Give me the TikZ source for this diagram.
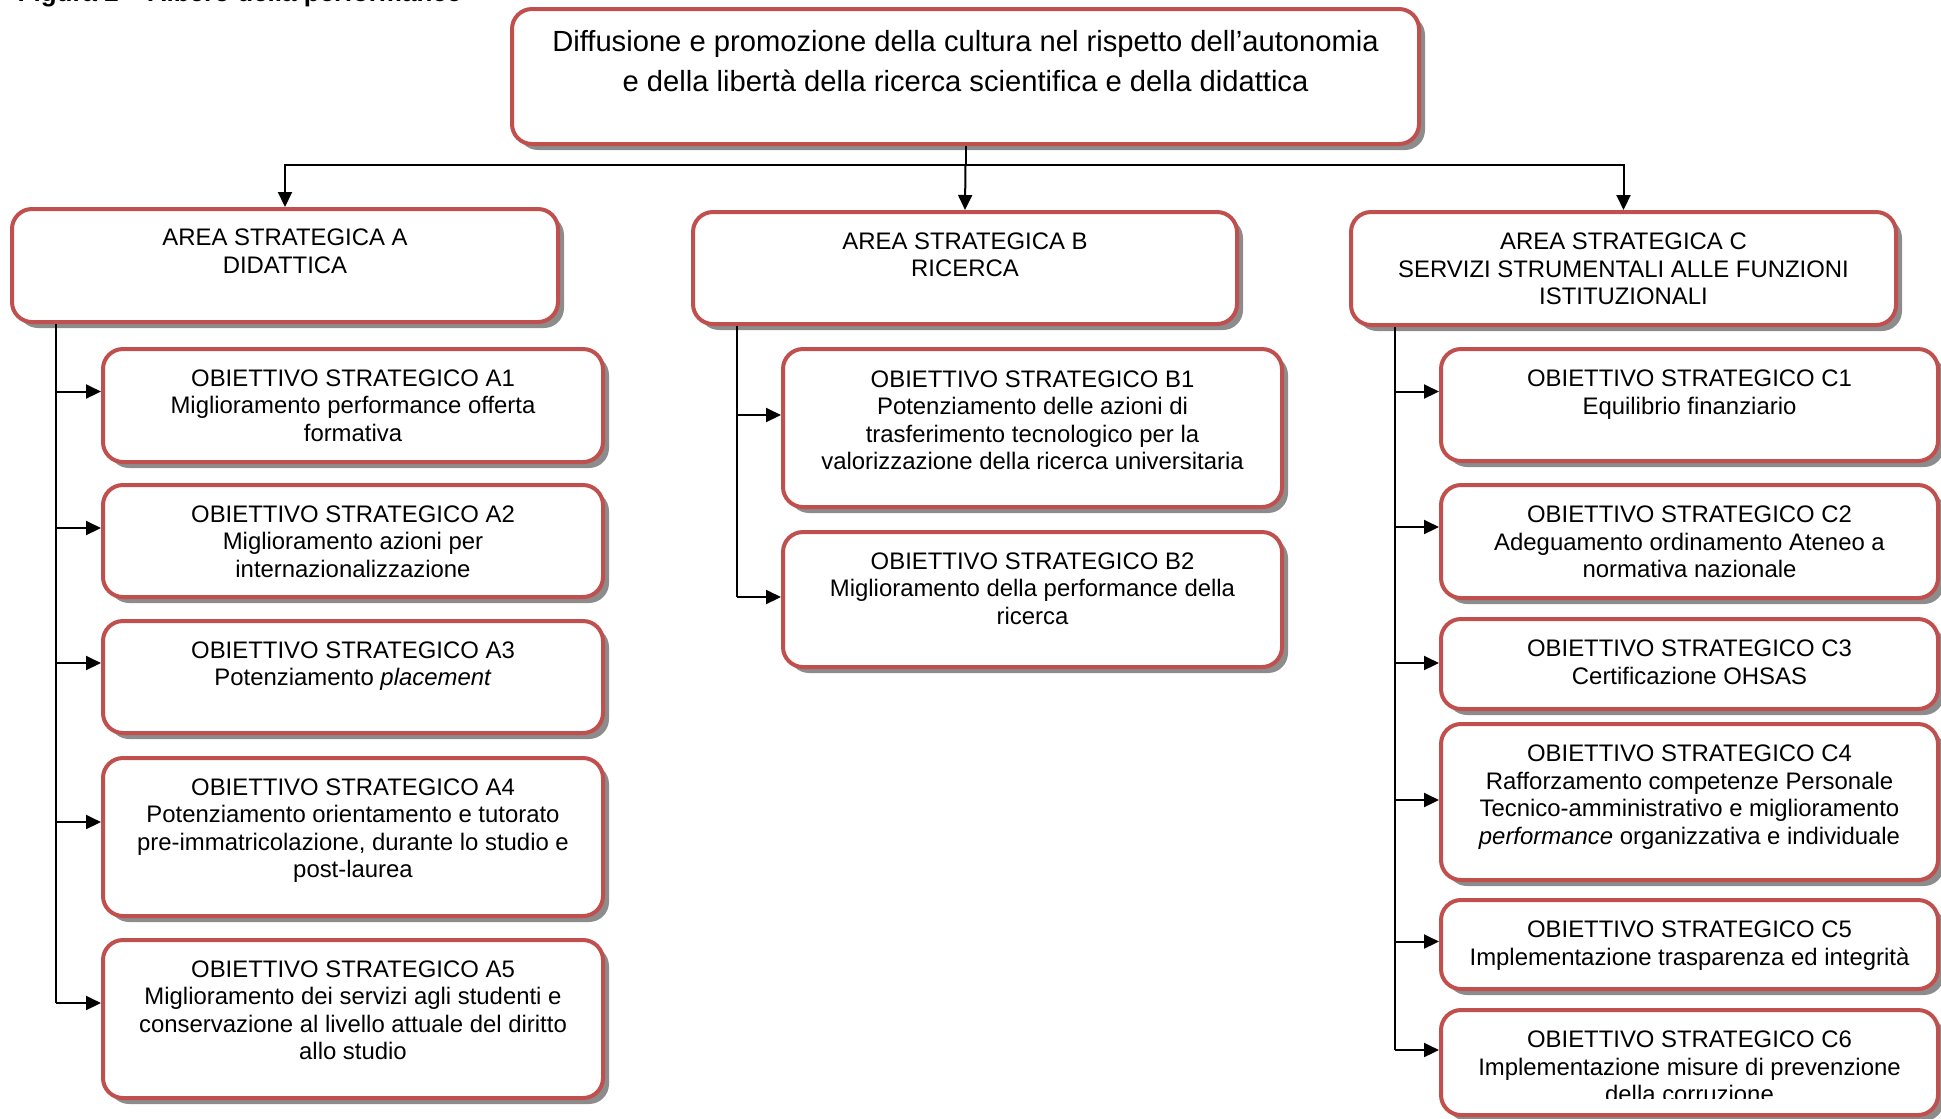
\documentclass[tikz,border=0pt]{standalone}
\usepackage{fontspec}
\setmainfont{Liberation Sans}
\usetikzlibrary{arrows.meta,shadows}
\definecolor{bordo}{HTML}{C0504D}
\tikzset{
  box/.style={draw=bordo, line width=0.4mm, rounded corners=2mm, fill=white, anchor=north west, inner sep=0,
    drop shadow={shadow xshift=.6mm, shadow yshift=-.6mm, fill=black!45, opacity=1}},
  txt/.style={anchor=north, align=center, inner sep=0, font=\fontsize{6.8}{7.8}\selectfont},
  arr/.style={-{Triangle[length=1.5mm,width=1.4mm]}, line width=0.2mm},
}
\begin{document}
\begin{tikzpicture}[x=0.1mm, y=-0.1mm]
                \useasboundingbox (0,0) rectangle (1941,1118);
                \node[anchor=base west, inner sep=0, font=\bfseries\fontsize{7.4}{8}\selectfont] (cap) at (17,1) {Figura 2 – Albero della performance};

                \node[box, minimum width=90.7mm, minimum height=13.5mm] (top) at (510,7) {};
                \node[txt, font=\fontsize{8.3}{11.2}\selectfont] (toptxt) at ([yshift=-2.3mm]top.north) {Diffusione e promozione della cultura nel rispetto dell’autonomia\\e della libertà della ricerca scientifica e della didattica};

                \node[box, minimum width=54.6mm, minimum height=11.3mm] (areaA) at (10,207) {};
                \node[box, minimum width=54.4mm, minimum height=11.2mm] (areaB) at (691,210) {};
                \node[box, minimum width=54.5mm, minimum height=11.3mm] (areaC) at (1349,210) {};
                \node[txt] (areaAtxt) at ([yshift=-2.15mm]areaA.north) {AREA STRATEGICA A\\DIDATTICA};
                \node[txt] (areaBtxt) at ([yshift=-2.2mm]areaB.north) {AREA STRATEGICA B\\RICERCA};
                \node[txt] (areaCtxt) at ([yshift=-2.25mm]areaC.north) {AREA STRATEGICA C\\SERVIZI STRUMENTALI ALLE FUNZIONI\\ISTITUZIONALI};

                \node[box, minimum width=50mm, minimum height=11.3mm] (A1) at (101,347) {};
                \node[box, minimum width=50mm, minimum height=11.2mm] (A2) at (101,483) {};
                \node[box, minimum width=50mm, minimum height=11.2mm] (A3) at (101,619) {};
                \node[box, minimum width=50mm, minimum height=15.8mm] (A4) at (101,756) {};
                \node[box, minimum width=50mm, minimum height=15.8mm] (A5) at (101,938) {};
                \node[txt] (A1txt) at ([yshift=-2.2mm]A1.north) {OBIETTIVO STRATEGICO A1\\Miglioramento performance offerta\\formativa};
                \node[txt] (A2txt) at ([yshift=-2.2mm]A2.north) {OBIETTIVO STRATEGICO A2\\Miglioramento azioni per\\internazionalizzazione};
                \node[txt] (A3txt) at ([yshift=-2.2mm]A3.north) {OBIETTIVO STRATEGICO A3\\Potenziamento \textit{placement}};
                \node[txt] (A4txt) at ([yshift=-2.2mm]A4.north) {OBIETTIVO STRATEGICO A4\\Potenziamento orientamento e tutorato\\pre-immatricolazione, durante lo studio e\\post-laurea};
                \node[txt] (A5txt) at ([yshift=-2.2mm]A5.north) {OBIETTIVO STRATEGICO A5\\Miglioramento dei servizi agli studenti e\\conservazione al livello attuale del diritto\\allo studio};

                \node[box, minimum width=49.9mm, minimum height=15.8mm] (B1) at (781,347) {};
                \node[box, minimum width=49.9mm, minimum height=13.5mm] (B2) at (781,530) {};
                \node[txt] (B1txt) at ([yshift=-2.3mm]B1.north) {OBIETTIVO STRATEGICO B1\\Potenziamento delle azioni di\\trasferimento tecnologico per la\\valorizzazione della ricerca universitaria};
                \node[txt] (B2txt) at ([yshift=-2.2mm]B2.north) {OBIETTIVO STRATEGICO B2\\Miglioramento della performance della\\ricerca};

                \node[box, minimum width=49.7mm, minimum height=11.2mm] (C1) at (1439,347) {};
                \node[box, minimum width=49.7mm, minimum height=11.3mm] (C2) at (1439,483) {};
                \node[box, minimum width=49.7mm, minimum height=9mm] (C3) at (1439,617) {};
                \node[box, minimum width=49.7mm, minimum height=15.6mm] (C4) at (1439,722) {};
                \node[box, minimum width=49.7mm, minimum height=8.9mm] (C5) at (1439,898) {};
                \node[box, minimum width=49.7mm, minimum height=10.5mm] (C6) at (1439,1008) {};
                \node[txt] (C1txt) at ([yshift=-2.25mm]C1.north) {OBIETTIVO STRATEGICO C1\\Equilibrio finanziario};
                \node[txt] (C2txt) at ([yshift=-2.25mm]C2.north) {OBIETTIVO STRATEGICO C2\\Adeguamento ordinamento Ateneo a\\normativa nazionale};
                \node[txt] (C3txt) at ([yshift=-2.25mm]C3.north) {OBIETTIVO STRATEGICO C3\\Certificazione OHSAS};
                \node[txt] (C4txt) at ([yshift=-2.25mm]C4.north) {OBIETTIVO STRATEGICO C4\\Rafforzamento competenze Personale\\Tecnico-amministrativo e miglioramento\\\textit{performance} organizzativa e individuale};
                \node[txt] (C5txt) at ([yshift=-2.25mm]C5.north) {OBIETTIVO STRATEGICO C5\\Implementazione trasparenza ed integrità};
                \begin{scope}
                \clip (1439,1008) rectangle (1941,1098);
                \node[txt] (C6txt) at ([yshift=-2.25mm]C6.north) {OBIETTIVO STRATEGICO C6\\Implementazione misure di prevenzione\\della corruzione};
                \end{scope}

                % albero
                \coordinate (split) at (top.south |- 0,165);
                \draw[line width=0.2mm] (top.south) -- (split);
                \draw[arr] (split) -| (areaA.north);
                \draw[arr] (split) -- (areaB.north);
                \draw[arr] (split) -| (areaC.north);

                \coordinate (jA) at (56,1003);
                \coordinate (jB) at (736.5,597);
                \coordinate (jC) at (1394.5,1050);
                \draw[line width=0.2mm] (areaA.south -| jA) -- (jA);
                \draw[line width=0.2mm] (areaB.south -| jB) -- (jB);
                \draw[line width=0.2mm] (areaC.south -| jC) -- (jC);
                \foreach \n/\y in {A1/391.5, A2/528, A3/663, A4/822, A5/1003}
                    \draw[arr] (jA |- 0,\y) -- (\n.west |- 0,\y);
                \foreach \n/\y in {B1/415, B2/597}
                    \draw[arr] (jB |- 0,\y) -- (\n.west |- 0,\y);
                \foreach \n/\y in {C1/391.5, C2/527, C3/663, C4/800, C5/941.5, C6/1050}
                    \draw[arr] (jC |- 0,\y) -- (\n.west |- 0,\y);
\end{tikzpicture}
\end{document}
